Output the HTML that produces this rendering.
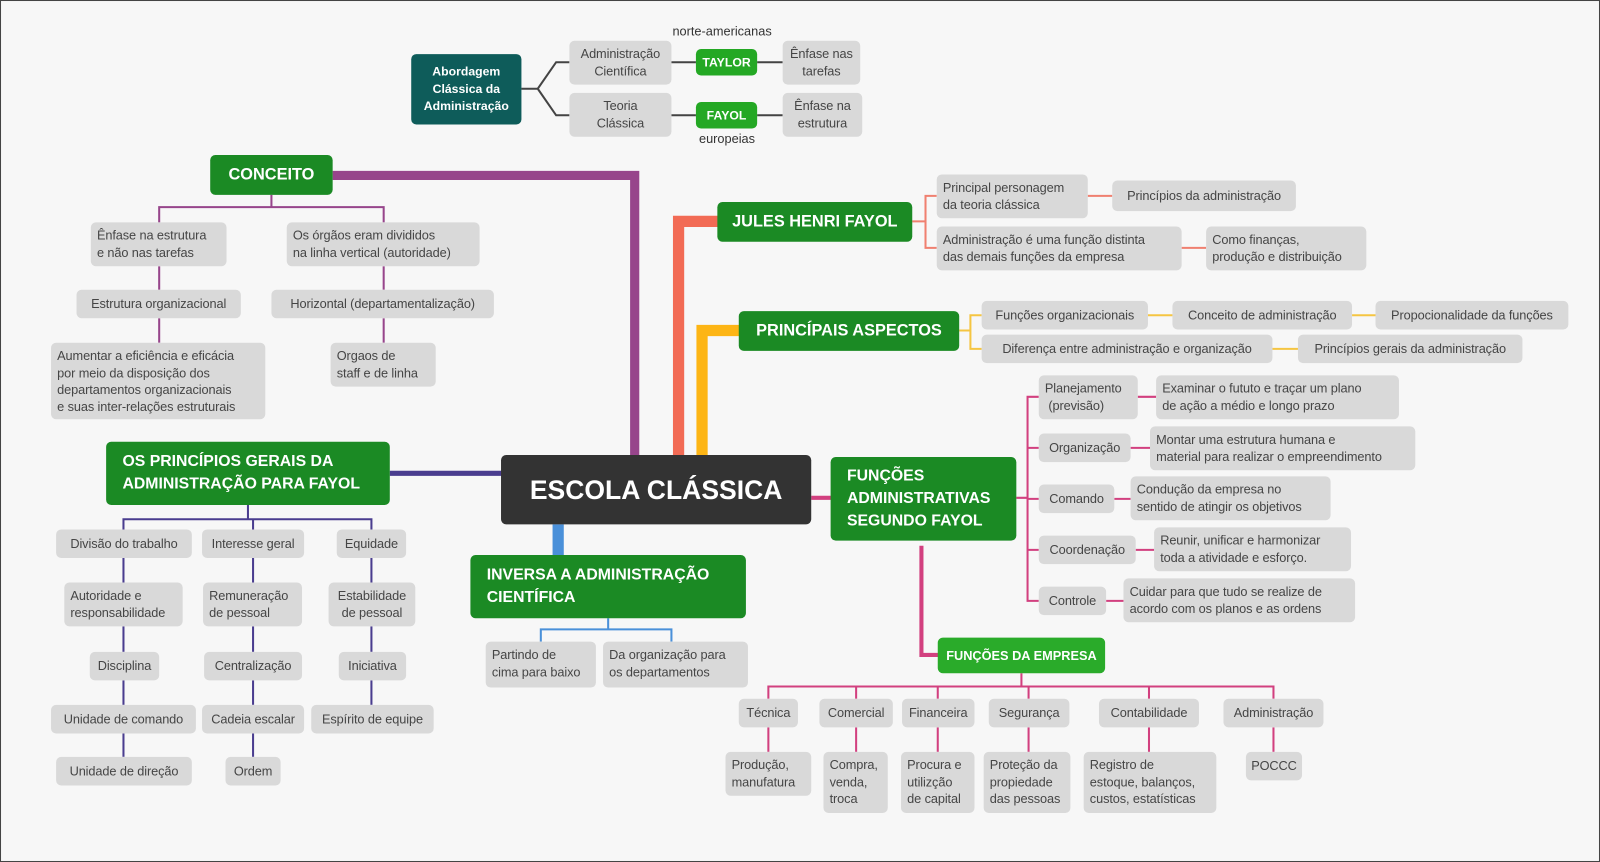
<!DOCTYPE html>
<html><head><meta charset="utf-8"><style>
html,body{margin:0;padding:0;background:#f7f7f7;overflow:hidden}
#wrap{position:absolute;left:0;top:0;width:1568px;height:845px;transform-origin:0 0;transform:scale(1.02041,1.02012);font-family:"Liberation Sans",sans-serif}
#frame{position:absolute;left:0;top:0;width:1566px;height:843px;border:1px solid #444}
.b{position:absolute;background:#d9d9d9;border-radius:5px;color:#454545;font-size:12.5px;line-height:16.5px;white-space:nowrap;box-sizing:border-box;padding:5px 6px;letter-spacing:-0.1px}
.c{text-align:center}
.s{display:flex;align-items:center;justify-content:center;padding:0 4px}
.g{position:absolute;background:#1b8a24;border-radius:5px;color:#fff;font-weight:bold;box-sizing:border-box;white-space:nowrap}
.t{position:absolute;font-size:12.5px;color:#333}
svg{position:absolute;left:0;top:0}
</style></head><body><div id="wrap"><div id="frame"></div>
<svg width="1568" height="845" fill="none">
<!-- top -->
<g stroke="#444" stroke-width="2">
<path d="M511 87H527L545 61H558M527 87L545 113H558M658 61H682M742 61H767M658 113H682M742 113H767"/>
</g>
<!-- conceito -->
<path d="M326 172H622V450" stroke="#97458b" stroke-width="9"/>
<g stroke="#97458b" stroke-width="2"><path d="M266 191V203M156 218V203H376V218M156 261V284M156 312V336M376 261V284M376 312V336"/></g>
<!-- principios gerais -->
<path d="M382 464H493" stroke="#4a3d8f" stroke-width="5"/>
<g stroke="#4a3d8f" stroke-width="2"><path d="M243 495V509M121 519V509H364V519M248 509V519M121 547V571M121 614V639M121 667V691M121 719V742M248 547V571M248 614V639M248 667V691M248 719V742M364 547V571M364 614V639M364 667V691"/></g>
<!-- inversa -->
<path d="M547 514V545" stroke="#4a90d9" stroke-width="11"/>
<g stroke="#4a90d9" stroke-width="2"><path d="M596 606V617M530 629V617H658V629"/></g>
<!-- jules -->
<path d="M705 217H665V447" stroke="#f26b55" stroke-width="11"/>
<g stroke="#f08070" stroke-width="2"><path d="M894 217H907M918 192H907V243H918M1066 192H1090M1158 243H1182"/></g>
<!-- aspectos -->
<path d="M726 324H688V447" stroke="#fdb515" stroke-width="11"/>
<g stroke="#f5c542" stroke-width="2"><path d="M940 324H951M962 309H951V342H962M1125 309H1149M1325 309H1348M1247 342H1272"/></g>
<!-- funcoes adm -->
<path d="M795 488H816" stroke="#d2407f" stroke-width="4"/>
<g stroke="#d2407f" stroke-width="2"><path d="M996 488H1007M1018 389H1007V589H1018M1007 439H1018M1007 489H1018M1007 539H1018M1115 389H1133M1108 439H1127M1092 489H1108M1113 539H1131M1084 589H1101"/></g>
<path d="M903 535V642H921" stroke="#d2407f" stroke-width="4"/>
<g stroke="#d2407f" stroke-width="2"><path d="M1001 660V673M753 685V673H1248V685M839 673V685M919 673V685M1008 673V685M1126 673V685M753 713V737M839 713V737M919 713V737M1008 713V737M1126 713V737M1248 713V737"/></g>
</svg>

<div class="g s" style="left:403px;top:53px;width:108px;height:69px;background:#0e5c5a;font-size:12px;line-height:17px;text-align:center">Abordagem<br>Clássica da<br>Administração</div>
<div class="b c" style="left:558px;top:40px;width:100px;height:43px">Administração<br>Científica</div>
<div class="b c" style="left:558px;top:91px;width:100px;height:43px">Teoria<br>Clássica</div>
<div class="g s" style="left:682px;top:48px;width:60px;height:26px;background:#24a824;font-size:12px">TAYLOR</div>
<div class="g s" style="left:682px;top:100px;width:60px;height:26px;background:#24a824;font-size:12px">FAYOL</div>
<div class="b c" style="left:767px;top:40px;width:76px;height:43px">Ênfase nas<br>tarefas</div>
<div class="b c" style="left:767px;top:91px;width:78px;height:43px">Ênfase na<br>estrutura</div>
<div class="t" style="left:659px;top:24px">norte-americanas</div>
<div class="t" style="left:685px;top:129px">europeias</div>

<div class="g s" style="left:206px;top:152px;width:120px;height:39px;font-size:16px">CONCEITO</div>
<div class="b" style="left:89px;top:218px;width:133px;height:43px">Ênfase na estrutura<br>e não nas tarefas</div>
<div class="b" style="left:281px;top:218px;width:189px;height:43px">Os órgãos eram divididos<br>na linha vertical (autoridade)</div>
<div class="b s" style="left:75px;top:284px;width:161px;height:28px">Estrutura organizacional</div>
<div class="b s" style="left:266px;top:284px;width:218px;height:28px">Horizontal (departamentalização)</div>
<div class="b" style="left:50px;top:336px;width:210px;height:75px">Aumentar a eficiência e eficácia<br>por meio da disposição dos<br>departamentos organizacionais<br>e suas inter-relações estruturais</div>
<div class="b" style="left:324px;top:336px;width:103px;height:43px">Orgaos de<br>staff e de linha</div>

<div class="g s" style="left:491px;top:446px;width:304px;height:68px;background:#333;font-size:26px">ESCOLA CLÁSSICA</div>

<div class="g" style="left:104px;top:433px;width:278px;height:62px;font-size:15.5px;line-height:22px;padding:9px 16px">OS PRINCÍPIOS GERAIS DA<br>ADMINISTRAÇÃO PARA FAYOL</div>
<div class="b s" style="left:55px;top:519px;width:133px;height:28px">Divisão do trabalho</div>
<div class="b" style="left:63px;top:571px;width:116px;height:43px">Autoridade e<br>responsabilidade</div>
<div class="b s" style="left:88px;top:639px;width:68px;height:28px">Disciplina</div>
<div class="b s" style="left:50px;top:691px;width:142px;height:28px">Unidade de comando</div>
<div class="b s" style="left:55px;top:742px;width:133px;height:28px">Unidade de direção</div>
<div class="b s" style="left:198px;top:519px;width:100px;height:28px">Interesse geral</div>
<div class="b" style="left:199px;top:571px;width:97px;height:43px">Remuneração<br>de pessoal</div>
<div class="b s" style="left:200px;top:639px;width:96px;height:28px">Centralização</div>
<div class="b s" style="left:198px;top:691px;width:100px;height:28px">Cadeia escalar</div>
<div class="b s" style="left:221px;top:742px;width:54px;height:28px">Ordem</div>
<div class="b s" style="left:330px;top:519px;width:68px;height:28px">Equidade</div>
<div class="b c" style="left:322px;top:571px;width:85px;height:43px">Estabilidade<br>de pessoal</div>
<div class="b s" style="left:332px;top:639px;width:66px;height:28px">Iniciativa</div>
<div class="b s" style="left:305px;top:691px;width:120px;height:28px">Espírito de equipe</div>

<div class="g" style="left:461px;top:544px;width:270px;height:62px;font-size:15.5px;line-height:22px;padding:9px 16px">INVERSA A ADMINISTRAÇÃO<br>CIENTÍFICA</div>
<div class="b" style="left:476px;top:629px;width:108px;height:45px">Partindo de<br>cima para baixo</div>
<div class="b" style="left:591px;top:629px;width:142px;height:45px">Da organização para<br>os departamentos</div>

<div class="g s" style="left:703px;top:198px;width:191px;height:39px;font-size:16px">JULES HENRI FAYOL</div>
<div class="b" style="left:918px;top:171px;width:148px;height:43px">Principal personagem<br>da teoria clássica</div>
<div class="b s" style="left:1090px;top:177px;width:180px;height:30px">Princípios da administração</div>
<div class="b" style="left:918px;top:222px;width:240px;height:43px">Administração é uma função distinta<br>das demais funções da empresa</div>
<div class="b" style="left:1182px;top:222px;width:157px;height:43px">Como finanças,<br>produção e distribuição</div>

<div class="g s" style="left:724px;top:305px;width:216px;height:39px;font-size:16px">PRINCÍPAIS ASPECTOS</div>
<div class="b s" style="left:962px;top:295px;width:163px;height:28px">Funções organizacionais</div>
<div class="b s" style="left:1149px;top:295px;width:176px;height:28px">Conceito de administração</div>
<div class="b s" style="left:1348px;top:295px;width:189px;height:28px">Propocionalidade da funções</div>
<div class="b s" style="left:962px;top:328px;width:285px;height:28px">Diferença entre administração e organização</div>
<div class="b s" style="left:1272px;top:328px;width:220px;height:28px">Princípios gerais da administração</div>

<div class="g" style="left:814px;top:448px;width:182px;height:82px;font-size:15.5px;line-height:22px;padding:8px 16px">FUNÇÕES<br>ADMINISTRATIVAS<br>SEGUNDO FAYOL</div>
<div class="b" style="left:1018px;top:368px;width:97px;height:43px">Planejamento<br>&nbsp;(previsão)</div>
<div class="b" style="left:1133px;top:368px;width:238px;height:43px">Examinar o fututo e traçar um plano<br>de ação a médio e longo prazo</div>
<div class="b s" style="left:1018px;top:425px;width:90px;height:28px">Organização</div>
<div class="b" style="left:1127px;top:418px;width:260px;height:43px">Montar uma estrutura humana e<br>material para realizar o empreendimento</div>
<div class="b s" style="left:1018px;top:475px;width:74px;height:28px">Comando</div>
<div class="b" style="left:1108px;top:467px;width:196px;height:43px">Condução da empresa no<br>sentido de atingir os objetivos</div>
<div class="b s" style="left:1018px;top:525px;width:95px;height:28px">Coordenação</div>
<div class="b" style="left:1131px;top:517px;width:193px;height:43px">Reunir, unificar e harmonizar<br>toda a atividade e esforço.</div>
<div class="b s" style="left:1018px;top:575px;width:66px;height:28px">Controle</div>
<div class="b" style="left:1101px;top:567px;width:227px;height:43px">Cuidar para que tudo se realize de<br>acordo com os planos e as ordens</div>

<div class="g s" style="left:919px;top:625px;width:164px;height:35px;background:#2aab2a;font-size:12.5px">FUNÇÕES DA EMPRESA</div>
<div class="b s" style="left:724px;top:685px;width:58px;height:28px">Técnica</div>
<div class="b s" style="left:803px;top:685px;width:72px;height:28px">Comercial</div>
<div class="b s" style="left:884px;top:685px;width:71px;height:28px">Financeira</div>
<div class="b s" style="left:969px;top:685px;width:79px;height:28px">Segurança</div>
<div class="b s" style="left:1077px;top:685px;width:98px;height:28px">Contabilidade</div>
<div class="b s" style="left:1199px;top:685px;width:98px;height:28px">Administração</div>
<div class="b" style="left:711px;top:737px;width:84px;height:43px">Produção,<br>manufatura</div>
<div class="b" style="left:807px;top:737px;width:63px;height:60px">Compra,<br>venda,<br>troca</div>
<div class="b" style="left:883px;top:737px;width:72px;height:60px">Procura e<br>utilizção<br>de capital</div>
<div class="b" style="left:964px;top:737px;width:85px;height:60px">Proteção da<br>propiedade<br>das pessoas</div>
<div class="b" style="left:1062px;top:737px;width:130px;height:60px">Registro de<br>estoque, balanços,<br>custos, estatísticas</div>
<div class="b s" style="left:1221px;top:737px;width:55px;height:28px">POCCC</div>
</div></body></html>
